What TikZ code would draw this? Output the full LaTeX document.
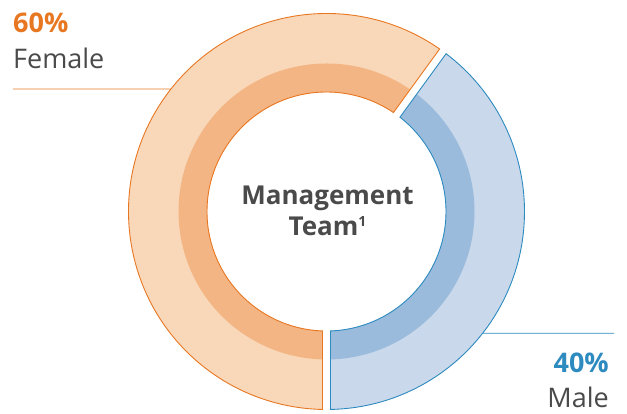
\documentclass[tikz,border=0pt]{standalone}
\usepackage{fontspec}
\setmainfont{Open Sans}
\definecolor{orline}{HTML}{E87722}
\definecolor{orlight}{HTML}{F9D8BA}
\definecolor{ordark}{HTML}{F3B584}
\definecolor{blline}{HTML}{2E8BC0}
\definecolor{bllight}{HTML}{C9D8EA}
\definecolor{bldark}{HTML}{9ABBDC}
\definecolor{txtgray}{HTML}{4A4A4A}
\newcommand\gapw{4}
\newcommand\donutseg[5]{%
  \pgfmathsetmacro\segdo{asin(\gapw/#5)}%
  \pgfmathsetmacro\segdi{asin(\gapw/#4)}%
  \path[#1] ({#2+\segdo}:#5) arc[start angle={#2+\segdo}, end angle={#3-\segdo}, radius=#5]
    -- ({#3-\segdi}:#4) arc[start angle={#3-\segdi}, end angle={#2+\segdi}, radius=#4] -- cycle;}
\tikzset{
  pct/.style={font=\fontsize{27}{30}\selectfont\bfseries, inner sep=0pt},
  lbl/.style={font=\fontsize{27}{30}\selectfont, text=txtgray, inner sep=0pt},
  ctr/.style={font=\fontsize{26}{30}\selectfont\bfseries, text=txtgray, inner sep=0pt},
  leader/.style={line width=0.9pt}
}
\begin{document}
\begin{tikzpicture}[x=1pt,y=1pt]
\useasboundingbox (0,0) rectangle (627,414);
\coordinate (C) at (326.5,202.5);
\begin{scope}[shift={(C)}]
  % orange (female, 60%)
  \donutseg{fill=orlight}{54}{270}{119.5}{198}
  \donutseg{fill=ordark}{54}{270}{119.5}{148}
  \donutseg{draw=orline, line width=0.9pt}{54}{270}{119.5}{198}
  % blue (male, 40%)
  \donutseg{fill=bllight}{-90}{54}{119.5}{198}
  \donutseg{fill=bldark}{-90}{54}{119.5}{148}
  \donutseg{draw=blline, line width=0.9pt}{-90}{54}{119.5}{198}
  \coordinate (fhit) at ({180-asin(122.5/198)}:198);
  \coordinate (mhit) at ({-asin(121.8/198)}:198);
\end{scope}
\node[pct, text=orline, anchor=base west] (fpct) at (13,381.7) {60\%};
\node[lbl, anchor=base west] (flbl) at (13,345) {Female};
\coordinate (fend) at (13,325);
\draw[leader, orline] (fend) -- (fhit);
\node[pct, text=blline, anchor=base east] (mpct) at (609,41.5) {40\%};
\node[lbl, anchor=base east] (mlbl) at (609,6) {Male};
\coordinate (mend) at (614,80.7);
\draw[leader, blline] (mhit) -- (mend);
\node[ctr, anchor=base] (t1) at (327.5,209) {Management};
\node[ctr, anchor=base] (t2) at (327.5,178) {Team\raisebox{9pt}{\fontsize{14}{14}\selectfont 1}};
\end{tikzpicture}
\end{document}
